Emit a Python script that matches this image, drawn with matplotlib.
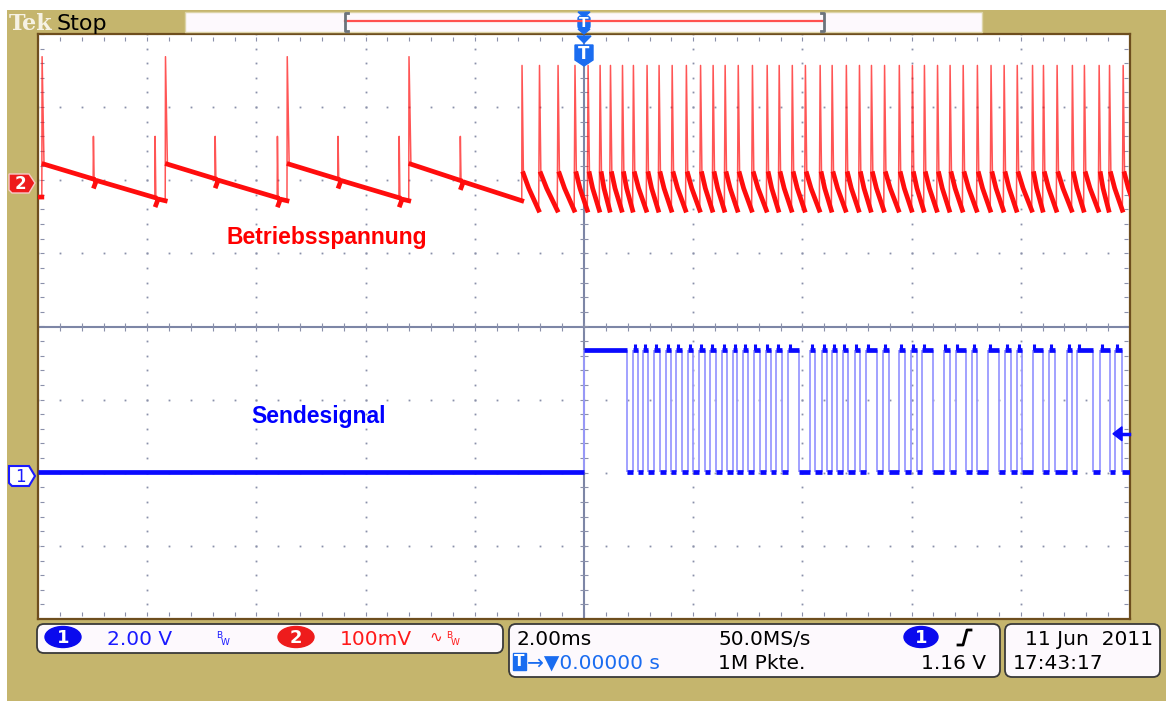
import numpy as np
import matplotlib.pyplot as plt
from matplotlib.patches import Rectangle, FancyBboxPatch, Ellipse, Polygon

W, H = 1166, 701

# scope settings: 2.00 ms/div, CH1 2.00 V/div, CH2 100 mV/div (AC)
ch1_v_per_div = 2.0
ch2_mv_per_div = 100.0
ch1_ground_div = -2.04
ch2_ground_div = 1.97
trigger_level_v = 1.16

# Betriebsspannung (CH2) - spike times in ms, levels in mV
big_spikes_ms = [-9.93, -7.67, -5.44, -3.21]
small_spikes_ms = [-8.99, -7.86, -6.76, -5.62, -4.51, -3.39, -2.27]
fast_spikes_ms = [-1.14, -0.82, -0.48, -0.17, 0.07, 0.29, 0.48, 0.70, 0.90, 1.15,
                  1.37, 1.61, 1.87, 2.13, 2.36, 2.58, 2.82, 3.08, 3.35, 3.57,
                  3.81, 4.05, 4.32, 4.54, 4.80, 5.04, 5.26, 5.50, 5.77, 6.01,
                  6.23, 6.47, 6.70, 6.94, 7.20, 7.45, 7.69, 7.93, 8.21, 8.41,
                  8.66, 8.94, 9.16, 9.43, 9.62, 9.87]
start_mv = -20
big_peak_mv = 172
small_peak_mv = 63
saw_top_mv = 25
saw_bottom_mv = -25
fast_peak_mv = 160
fast_top_mv = 12
fast_knee_mv = -8
fast_bottom_mv = -38

# Sendesignal (CH1) - edge times in ms (first edge rising), levels in V
send_edges_ms = [0.00, 0.79, 0.90, 0.99, 1.08, 1.17, 1.28, 1.39, 1.50, 1.59,
                 1.69, 1.80, 1.91, 2.00, 2.11, 2.22, 2.31, 2.42, 2.53, 2.62,
                 2.73, 2.80, 2.91, 3.00, 3.11, 3.22, 3.33, 3.43, 3.52, 3.63,
                 3.74, 3.94, 4.14, 4.23, 4.36, 4.45, 4.54, 4.63, 4.74, 4.84,
                 4.96, 5.06, 5.17, 5.37, 5.48, 5.59, 5.77, 5.88, 5.99, 6.10,
                 6.19, 6.39, 6.59, 6.70, 6.81, 7.00, 7.11, 7.20, 7.40, 7.60,
                 7.71, 7.82, 7.93, 8.02, 8.22, 8.41, 8.52, 8.63, 8.85, 8.94,
                 9.03, 9.32, 9.45, 9.63, 9.73, 9.85]
send_high_v = 3.45
send_low_v = 0.10
send_overshoot_v = 0.16

KHAKI = '#c5b56d'
PANEL = '#fdf9fd'
RED = '#ff0d0d'
BLUE = '#0a0aff'
GRID = '#8a90aa'

# ---- build CH2 waveform ----
red_t, red_v = [-10.0, big_spikes_ms[0]], [start_mv, start_mv]
ends = big_spikes_ms[1:] + [fast_spikes_ms[0]]
for a, b in zip(big_spikes_ms, ends):
    red_t += [a + 0.005, a + 0.04]
    red_v += [big_peak_mv, saw_top_mv]
    for s in small_spikes_ms:
        if a < s < b:
            base = saw_top_mv + (saw_bottom_mv - saw_top_mv) * (s - a - 0.04) / (b - a - 0.04)
            red_t += [s, s + 0.005, s + 0.02, s + 0.06]
            red_v += [base, small_peak_mv, base - 10, base - 2]
    red_t.append(b)
    red_v.append(saw_bottom_mv)
fast_ends = fast_spikes_ms[1:] + [fast_spikes_ms[-1] + 0.25]
for a, b in zip(fast_spikes_ms, fast_ends):
    red_t += [a + 0.005, a + 0.03, a + 0.4 * (b - a), b - 0.01]
    red_v += [fast_peak_mv, fast_top_mv, fast_knee_mv, fast_bottom_mv]
red_t = np.array(red_t)
red_v = np.array(red_v, dtype=float)
red_y = ch2_ground_div + red_v / ch2_mv_per_div
red_thick = np.where(red_v > 40, np.nan, red_y)

# ---- figure ----
fig = plt.figure(figsize=(W / 100, H / 100), dpi=100)
fig.patch.set_facecolor('white')

bg = fig.add_axes([0, 0, 1, 1], zorder=0)
bg.set_xlim(0, W)
bg.set_ylim(H, 0)
bg.axis('off')
bg.add_patch(Rectangle((7, 10), W - 7, H - 10, facecolor=KHAKI, edgecolor='none'))

gl, gr, gt, gb = 38, 1130, 34, 619
ax = fig.add_axes([gl / W, 1 - gb / H, (gr - gl) / W, (gb - gt) / H], zorder=1)
ax.set_xlim(-10, 10)
ax.set_ylim(-4, 4)
ax.set_facecolor('white')
ax.set_xticks([])
ax.set_yticks([])
for sp in ax.spines.values():
    sp.set_color('#6e4e1e')
    sp.set_linewidth(1.6)

# graticule dots
for gx in np.arange(-8, 9, 2):
    if gx == 0:
        continue
    yy = np.arange(-4, 4.01, 0.2)
    ax.plot(np.full_like(yy, gx), yy, ls='none', marker='s', ms=1.3, color=GRID, mew=0)
for gy in [-3, -2, -1, 1, 2, 3]:
    xx = np.arange(-10, 10.01, 0.4)
    ax.plot(xx, np.full_like(xx, gy), ls='none', marker='s', ms=1.3, color=GRID, mew=0)
# edge ticks
xx = np.arange(-10, 10.01, 0.4)
yy = np.arange(-4, 4.01, 0.2)
ax.plot(xx, np.full_like(xx, 3.93), ls='none', marker='|', ms=3, color=GRID, mew=0.8)
ax.plot(xx, np.full_like(xx, -3.93), ls='none', marker='|', ms=3, color=GRID, mew=0.8)
ax.plot(np.full_like(yy, -9.93), yy, ls='none', marker='_', ms=3, color=GRID, mew=0.8)
ax.plot(np.full_like(yy, 9.93), yy, ls='none', marker='_', ms=3, color=GRID, mew=0.8)
# centre cross
ax.axhline(0, color='#7d86a6', lw=1.5)
ax.axvline(0, color='#7d86a6', lw=1.5)
ax.plot(xx, np.zeros_like(xx), ls='none', marker='|', ms=6, color=GRID, mew=0.8)
ax.plot(np.zeros_like(yy), yy, ls='none', marker='_', ms=6, color=GRID, mew=0.8)

# CH2 trace
ax.plot(red_t, red_y, color=RED, lw=1.1, alpha=0.7, zorder=3)
ax.plot(red_t, red_thick, color=RED, lw=3.4, solid_joinstyle='round', zorder=3)

# CH1 trace
edges = np.array(send_edges_ms)
starts = np.concatenate([[-10.0], edges])
stops = np.concatenate([edges, [10.0]])
levels = np.array([send_low_v] + [send_high_v if i % 2 == 0 else send_low_v
                                  for i in range(len(edges))])
lo_y = ch1_ground_div + send_low_v / ch1_v_per_div
hi_y = ch1_ground_div + send_high_v / ch1_v_per_div
ax.vlines(edges, lo_y, hi_y, color='#9a9aff', lw=1.3, zorder=3)
ax.hlines(ch1_ground_div + levels / ch1_v_per_div, starts, stops, color=BLUE, lw=3.4, zorder=4)
rise = edges[2::2]
ax.vlines(rise + 0.03, hi_y, hi_y + send_overshoot_v / ch1_v_per_div, color=BLUE, lw=2.2, zorder=4)

# labels on the screen
fg = fig.add_axes([0, 0, 1, 1], zorder=2)
fg.set_xlim(0, W)
fg.set_ylim(H, 0)
fg.axis('off')
fg.patch.set_alpha(0)

fg.text(226, 244, 'Betriebsspannung', color='#ff0000', fontsize=16.5, fontweight='bold',
        family='Liberation Sans', va='baseline')
fg.text(251, 423, 'Sendesignal', color='#0000ff', fontsize=16.5, fontweight='bold',
        family='Liberation Sans', va='baseline')

# top bar
fg.text(9, 30, 'Tek', color='#f6f2e4', fontsize=16, fontweight='bold', family='DejaVu Serif',
        va='baseline')
fg.text(57, 30, 'Stop', color='black', fontsize=16, va='baseline')
fg.add_patch(Rectangle((185, 12), 797, 20, facecolor=PANEL, edgecolor='#ddd4a8', lw=1))
fg.plot([345, 824], [21, 21], color='#ff5050', lw=1.6)
for bx, d in [(345, 1), (824, -1)]:
    fg.plot([bx + 3 * d, bx, bx, bx + 3 * d], [13, 13, 31, 31], color='#6c747c', lw=2)

# trigger position markers
tx = 584
fg.add_patch(Polygon([[tx - 6, 12], [tx + 6, 12], [tx, 17]], color='#1a6cf0'))
fg.add_patch(FancyBboxPatch((tx - 6, 16), 12, 13, boxstyle='round,pad=0,rounding_size=3',
                            color='#1a6cf0'))
fg.add_patch(Polygon([[tx - 6, 29], [tx + 6, 29], [tx, 34]], color='#1a6cf0'))
fg.text(tx, 23, 'T', color='white', fontsize=10, fontweight='bold', ha='center', va='center')
fg.add_patch(Polygon([[tx - 7, 36], [tx + 7, 36], [tx, 43]], color='#1a6cf0'))
fg.add_patch(Polygon([[tx - 9, 45], [tx + 9, 45], [tx + 9, 60], [tx, 66], [tx - 9, 60]],
                     color='#1a6cf0'))
fg.text(tx, 54, 'T', color='white', fontsize=12, fontweight='bold', ha='center', va='center')

# channel ground markers
fg.add_patch(Polygon([[9, 174], [29, 174], [35, 183], [29, 193], [12, 193], [9, 190]],
                     facecolor='#ee1c1c', edgecolor='#f8c8c8', lw=1))
fg.text(20, 184, '2', color='white', fontsize=12, fontweight='bold', ha='center', va='center')
fg.add_patch(Polygon([[9, 466], [29, 466], [35, 476], [29, 486], [12, 486], [9, 483]],
                     facecolor='white', edgecolor='#1a1aff', lw=1.5))
fg.text(20, 477, '1', color='#1a1aff', fontsize=12, ha='center', va='center')

# trigger level arrow
trig_px = 327 - (ch1_ground_div + trigger_level_v / ch1_v_per_div) * (gb - gt) / 8
fg.add_patch(Polygon([[1113, trig_px], [1122, trig_px - 7], [1122, trig_px + 7]], color=BLUE))
fg.plot([1120, 1129], [trig_px, trig_px], color=BLUE, lw=2.5)

# bottom readout panels
for x0, x1, y0, y1 in [(37, 503, 624, 653), (509, 1000, 624, 677), (1005, 1160, 624, 677)]:
    fg.add_patch(FancyBboxPatch((x0, y0), x1 - x0, y1 - y0,
                                boxstyle='round,pad=0,rounding_size=7',
                                facecolor=PANEL, edgecolor='#3a3a3a', lw=1.3))

fs = 14.5
fg.add_patch(Ellipse((63, 637), 36, 21, color='#0a0aee'))
fg.text(63, 638, '1', color='white', fontsize=13, fontweight='bold', ha='center', va='center')
fg.text(107, 645, '2.00 V', color='#1a1aff', fontsize=fs, va='baseline')
fg.text(216, 638, 'B', color='#1a1aff', fontsize=6.5, va='baseline')
fg.text(221, 645, 'W', color='#1a1aff', fontsize=6.5, va='baseline')
fg.add_patch(Ellipse((296, 637), 36, 21, color='#ee1c1c'))
fg.text(296, 638, '2', color='white', fontsize=13, fontweight='bold', ha='center', va='center')
fg.text(340, 645, '100mV', color='#ff1a1a', fontsize=fs, va='baseline')
fg.text(429, 642, '\u223f', color='#ff1a1a', fontsize=11, va='baseline')
fg.text(446, 638, 'B', color='#ff1a1a', fontsize=6.5, va='baseline')
fg.text(451, 645, 'W', color='#ff1a1a', fontsize=6.5, va='baseline')

fg.text(517, 645, '2.00ms', color='black', fontsize=fs, va='baseline')
fg.text(718, 645, '50.0MS/s', color='black', fontsize=fs, va='baseline')
fg.add_patch(Ellipse((921, 637), 34, 21, color='#0a0aee'))
fg.text(921, 638, '1', color='white', fontsize=13, fontweight='bold', ha='center', va='center')
fg.plot([958, 963, 967, 971], [645, 645, 630, 630], color='black', lw=2)

fg.add_patch(Rectangle((513, 653), 13, 17, color='#1a6cf0'))
fg.text(519.5, 662, 'T', color='white', fontsize=11, fontweight='bold', ha='center', va='center')
fg.text(527, 669, '\u2192\u25bc0.00000 s', color='#1a6cf0', fontsize=fs, va='baseline')
fg.text(718, 669, '1M Pkte.', color='black', fontsize=fs, va='baseline')
fg.text(986, 669, '1.16 V', color='black', fontsize=fs, va='baseline', ha='right')

fg.text(1025, 645, '11 Jun  2011', color='black', fontsize=fs, va='baseline')
fg.text(1013, 669, '17:43:17', color='black', fontsize=fs, va='baseline')

fig.savefig('out.png', dpi=100)
